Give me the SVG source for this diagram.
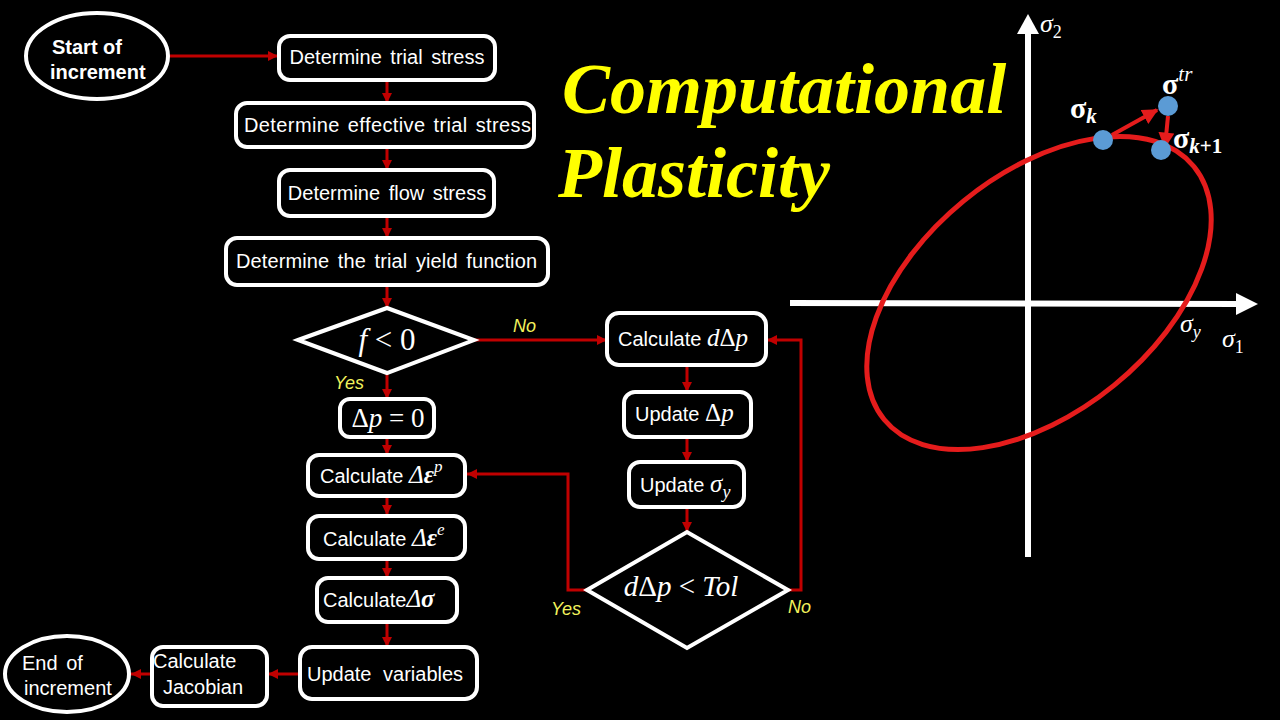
<svg xmlns="http://www.w3.org/2000/svg" width="1280" height="720" viewBox="0 0 1280 720">
<defs>
<style>
.box{fill:#000;stroke:#fff;stroke-width:4}
.t{font-family:"Liberation Sans",Arial,sans-serif;font-size:20px;fill:#fff}
.tb{font-family:"Liberation Sans",Arial,sans-serif;font-size:20px;font-weight:bold;fill:#fff}
.m{font-family:"Liberation Serif","Times New Roman",serif;fill:#fff}
.i{font-style:italic}
.lab{font-family:"Liberation Sans",Arial,sans-serif;font-size:18px;font-style:italic;fill:#f2f25c}
.con{fill:none;stroke:#c00000;stroke-width:3}
.title{font-family:"Liberation Serif","Times New Roman",serif;font-size:72px;font-weight:bold;font-style:italic;fill:#ffff00}
</style>
<marker id="ah" viewBox="0 0 10 10" refX="10" refY="5" markerWidth="10" markerHeight="10" markerUnits="userSpaceOnUse" orient="auto">
<path d="M0,0 L10,5 L0,10 z" fill="#c00000"/>
</marker>
<marker id="ahr" viewBox="0 0 10 10" refX="9" refY="5" markerWidth="16" markerHeight="16" markerUnits="userSpaceOnUse" orient="auto">
<path d="M0,0 L10,5 L0,10 z" fill="#e51c1c"/>
</marker>
</defs>
<rect width="1280" height="720" fill="#000"/>

<g id="connectors">
<line class="con" x1="168" y1="56" x2="278" y2="56" marker-end="url(#ah)"/>
<line class="con" x1="387" y1="80" x2="387" y2="103" marker-end="url(#ah)"/>
<line class="con" x1="387" y1="147" x2="387" y2="170" marker-end="url(#ah)"/>
<line class="con" x1="387" y1="216" x2="387" y2="238" marker-end="url(#ah)"/>
<line class="con" x1="387" y1="285" x2="387" y2="308" marker-end="url(#ah)"/>
<line class="con" x1="387" y1="374" x2="387" y2="399" marker-end="url(#ah)"/>
<line class="con" x1="387" y1="437" x2="387" y2="455" marker-end="url(#ah)"/>
<line class="con" x1="387" y1="497" x2="387" y2="515" marker-end="url(#ah)"/>
<line class="con" x1="387" y1="560" x2="387" y2="578" marker-end="url(#ah)"/>
<line class="con" x1="387" y1="622" x2="387" y2="647" marker-end="url(#ah)"/>
<line class="con" x1="300" y1="674" x2="268" y2="674" marker-end="url(#ah)"/>
<line class="con" x1="152" y1="674" x2="131" y2="674" marker-end="url(#ah)"/>
<line class="con" x1="473" y1="340" x2="607" y2="340" marker-end="url(#ah)"/>
<line class="con" x1="687" y1="365" x2="687" y2="392" marker-end="url(#ah)"/>
<line class="con" x1="687" y1="437" x2="687" y2="462" marker-end="url(#ah)"/>
<line class="con" x1="687" y1="507" x2="687" y2="532" marker-end="url(#ah)"/>
<polyline class="con" points="587,590 568,590 568,474 467,474" marker-end="url(#ah)"/>
<polyline class="con" points="788,590 801,590 801,340 767,340" marker-end="url(#ah)"/>
</g>

<g id="start">
<ellipse class="box" cx="97" cy="56" rx="71" ry="43"/>
<text class="tb" x="52" y="54">Start of</text>
<text class="tb" x="50" y="79">increment</text>
</g>
<g id="trial-stress">
<rect class="box" x="279" y="36" width="216" height="44" rx="11"/>
<text class="t" x="387" y="64" text-anchor="middle" word-spacing="3">Determine trial stress</text>
</g>
<g id="effective-trial-stress">
<rect class="box" x="236" y="103" width="298" height="44" rx="11"/>
<text class="t" x="244" y="132" word-spacing="2" textLength="287">Determine effective trial stress</text>
</g>
<g id="flow-stress">
<rect class="box" x="279" y="170" width="215" height="46" rx="11"/>
<text class="t" x="387" y="200" text-anchor="middle" word-spacing="3">Determine flow stress</text>
</g>
<g id="trial-yield">
<rect class="box" x="226" y="238" width="322" height="47" rx="11"/>
<text class="t" x="236" y="268" word-spacing="3" textLength="301">Determine the trial yield function</text>
</g>
<g id="f-check">
<polygon class="box" points="298,340 387,308 474,340 387,373"/>
<text class="m" x="387" y="350" text-anchor="middle" font-size="31"><tspan class="i">f</tspan> &lt; 0</text>
</g>
<g id="dp-zero">
<rect class="box" x="340" y="399" width="94" height="38" rx="10"/>
<text class="m" x="388" y="427" text-anchor="middle" font-size="27">Δ<tspan class="i">p</tspan> = 0</text>
</g>
<g id="calc-eps-p">
<rect class="box" x="308" y="455" width="157" height="41" rx="11"/>
<text class="t" x="320" y="483">Calculate <tspan class="m i" font-size="25">Δ</tspan><tspan class="m i" font-size="25" font-weight="bold">ε</tspan><tspan class="m i" font-size="17" dy="-11">p</tspan></text>
</g>
<g id="calc-eps-e">
<rect class="box" x="308" y="516" width="157" height="43" rx="11"/>
<text class="t" x="323" y="546">Calculate <tspan class="m i" font-size="25">Δ</tspan><tspan class="m i" font-size="25" font-weight="bold">ε</tspan><tspan class="m i" font-size="17" dy="-11">e</tspan></text>
</g>
<g id="calc-sigma">
<rect class="box" x="317" y="578" width="140" height="44" rx="11"/>
<text class="t" x="323" y="607">Calculate<tspan class="m i" font-size="25">Δ</tspan><tspan class="m i" font-size="25" font-weight="bold">σ</tspan></text>
</g>
<g id="update-variables">
<rect class="box" x="300" y="647" width="177" height="52" rx="12"/>
<text class="t" x="307" y="681" word-spacing="6">Update variables</text>
</g>
<g id="jacobian">
<rect class="box" x="152" y="647" width="115" height="59" rx="11"/>
<text class="t" x="153" y="668">Calculate</text>
<text class="t" x="163" y="694">Jacobian</text>
</g>
<g id="end">
<ellipse class="box" cx="67" cy="674" rx="62" ry="38"/>
<text class="t" x="22" y="670" word-spacing="3">End of</text>
<text class="t" x="24" y="695">increment</text>
</g>
<g id="calc-ddp">
<rect class="box" x="607" y="313" width="159" height="52" rx="12"/>
<text class="t" x="618" y="346">Calculate <tspan class="m i" font-size="25">d</tspan><tspan class="m" font-size="25">Δ</tspan><tspan class="m i" font-size="25">p</tspan></text>
</g>
<g id="update-dp">
<rect class="box" x="624" y="392" width="127" height="45" rx="11"/>
<text class="t" x="635" y="421">Update <tspan class="m" font-size="25">Δ</tspan><tspan class="m i" font-size="25">p</tspan></text>
</g>
<g id="update-sy">
<rect class="box" x="629" y="462" width="115" height="45" rx="11"/>
<text class="t" x="640" y="492">Update <tspan class="m i" font-size="25">σ</tspan><tspan class="m i" font-size="18" dy="6">y</tspan></text>
</g>
<g id="tol-check">
<polygon class="box" points="587,590 687,532 788,590 687,648"/>
<text class="m" x="681" y="596" text-anchor="middle" font-size="29"><tspan class="i">d</tspan>Δ<tspan class="i">p</tspan> &lt; <tspan class="i">Tol</tspan></text>
</g>

<g id="labels">
<text class="lab" x="513" y="332">No</text>
<text class="lab" x="334" y="389">Yes</text>
<text class="lab" x="551" y="615">Yes</text>
<text class="lab" x="788" y="613">No</text>
</g>

<g id="title">
<text class="title" x="562" y="113">Computational</text>
<text class="title" x="558" y="197">Plasticity</text>
</g>

<g id="plot">
<line x1="790" y1="303" x2="1238" y2="304" stroke="#fff" stroke-width="6"/>
<polygon points="1236,293 1258,304 1236,315" fill="#fff"/>
<line x1="1028" y1="557" x2="1028" y2="32" stroke="#fff" stroke-width="6"/>
<polygon points="1017,34 1028,14 1039,34" fill="#fff"/>
<ellipse cx="1039" cy="293" rx="200" ry="119" transform="rotate(-39.25 1039 293)" fill="none" stroke="#e51c1c" stroke-width="5"/>
<line x1="1112" y1="135" x2="1157" y2="110" stroke="#e51c1c" stroke-width="4" marker-end="url(#ahr)"/>
<line x1="1168" y1="116" x2="1165" y2="147" stroke="#e51c1c" stroke-width="4" marker-end="url(#ahr)"/>
<circle cx="1103" cy="140" r="10" fill="#5b9bd5"/>
<circle cx="1168" cy="106" r="10" fill="#5b9bd5"/>
<circle cx="1161" cy="150" r="10" fill="#5b9bd5"/>
<text class="m" x="1070" y="118" font-size="30" font-weight="bold">σ<tspan class="i" font-size="21" dy="5">k</tspan></text>
<text class="m" x="1162" y="94" font-size="30" font-weight="bold">σ<tspan class="i" font-size="21" font-weight="normal" dy="-13">tr</tspan></text>
<text class="m" x="1173" y="148" font-size="30" font-weight="bold">σ<tspan class="i" font-size="21" dy="5">k</tspan><tspan font-size="21" font-style="normal">+1</tspan></text>
<text class="m i" x="1040" y="32" font-size="26">σ<tspan font-style="normal" font-size="18" dy="6">2</tspan></text>
<text class="m i" x="1180" y="332" font-size="26">σ<tspan font-size="18" dy="6">y</tspan></text>
<text class="m i" x="1222" y="347" font-size="26">σ<tspan font-style="normal" font-size="18" dy="6">1</tspan></text>
</g>
</svg>
